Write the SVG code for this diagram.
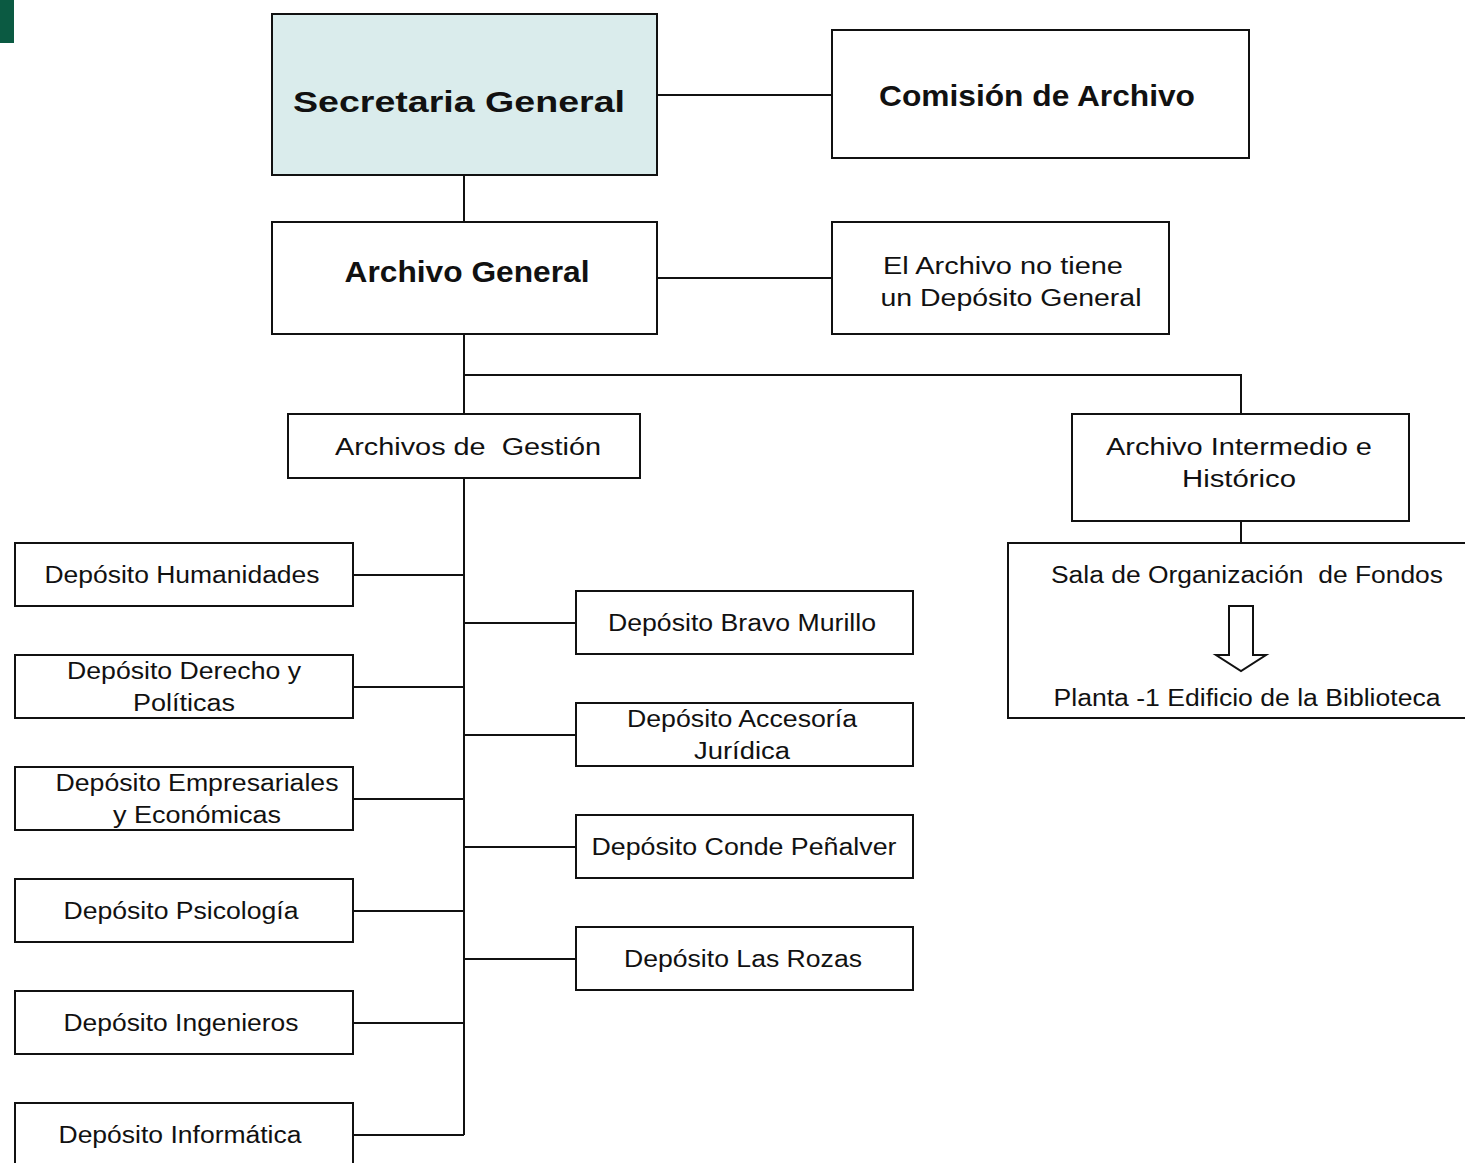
<svg xmlns="http://www.w3.org/2000/svg" width="1465" height="1163" viewBox="0 0 1465 1163">
<style>
.box{fill:#fff;stroke:#111;stroke-width:2}
.hl{fill:#daecec}
.t{font-family:"Liberation Sans",Arial,sans-serif;font-size:23px;fill:#111;text-anchor:middle}
.b{font-weight:bold;font-size:30px}
.p{white-space:pre}
.c{fill:none;stroke:#111;stroke-width:2}
</style>
<rect x="0" y="0" width="14" height="43" fill="#0b5a42"/>
<g id="connectors">
<path class="c" d="M657 95H832M464 175V222M657 278H832M464 334V414M464 375H1241V414M1241 521V543M464 478V1135"/>
<path class="c" d="M353 575H464M353 687H464M353 799H464M353 911H464M353 1023H464M353 1135H464"/>
<path class="c" d="M464 623H576M464 735H576M464 847H576M464 959H576"/>
</g>
<g id="secretaria"><rect class="box hl" x="272" y="14" width="385" height="161"/><text class="t b" x="459" y="112" textLength="332" lengthAdjust="spacingAndGlyphs">Secretaria General</text></g>
<g id="comision"><rect class="box" x="832" y="30" width="417" height="128"/><text class="t b" x="1037" y="106" textLength="316" lengthAdjust="spacingAndGlyphs">Comisión de Archivo</text></g>
<g id="archivo-general"><rect class="box" x="272" y="222" width="385" height="112"/><text class="t b" x="467" y="282" textLength="245" lengthAdjust="spacingAndGlyphs">Archivo General</text></g>
<g id="no-deposito"><rect class="box" x="832" y="222" width="337" height="112"/><text class="t" x="1003" y="274" textLength="240" lengthAdjust="spacingAndGlyphs">El Archivo no tiene</text><text class="t" x="1011" y="306" textLength="261" lengthAdjust="spacingAndGlyphs">un Depósito General</text></g>
<g id="gestion"><rect class="box" x="288" y="414" width="352" height="64"/><text class="t p" x="468" y="455" textLength="266" lengthAdjust="spacingAndGlyphs">Archivos de  Gestión</text></g>
<g id="intermedio"><rect class="box" x="1072" y="414" width="337" height="107"/><text class="t" x="1239" y="455" textLength="266" lengthAdjust="spacingAndGlyphs">Archivo Intermedio e</text><text class="t" x="1239" y="487" textLength="114" lengthAdjust="spacingAndGlyphs">Histórico</text></g>
<g id="sala"><rect class="box" x="1008" y="543" width="462" height="175"/><text class="t p" x="1247" y="583" textLength="392" lengthAdjust="spacingAndGlyphs">Sala de Organización  de Fondos</text><path d="M1229 606H1253V655H1266L1241 671L1216 655H1229Z" fill="#fff" stroke="#111" stroke-width="2"/><text class="t" x="1247" y="706" textLength="387" lengthAdjust="spacingAndGlyphs">Planta -1 Edificio de la Biblioteca</text></g>
<g id="humanidades"><rect class="box" x="15" y="543" width="338" height="63"/><text class="t" x="182" y="583" textLength="275" lengthAdjust="spacingAndGlyphs">Depósito Humanidades</text></g>
<g id="derecho"><rect class="box" x="15" y="655" width="338" height="63"/><text class="t" x="184" y="679" textLength="234" lengthAdjust="spacingAndGlyphs">Depósito Derecho y</text><text class="t" x="184" y="711" textLength="102" lengthAdjust="spacingAndGlyphs">Políticas</text></g>
<g id="empresariales"><rect class="box" x="15" y="767" width="338" height="63"/><text class="t" x="197" y="791" textLength="283" lengthAdjust="spacingAndGlyphs">Depósito Empresariales</text><text class="t" x="197" y="823" textLength="168" lengthAdjust="spacingAndGlyphs">y Económicas</text></g>
<g id="psicologia"><rect class="box" x="15" y="879" width="338" height="63"/><text class="t" x="181" y="919" textLength="235" lengthAdjust="spacingAndGlyphs">Depósito Psicología</text></g>
<g id="ingenieros"><rect class="box" x="15" y="991" width="338" height="63"/><text class="t" x="181" y="1031" textLength="235" lengthAdjust="spacingAndGlyphs">Depósito Ingenieros</text></g>
<g id="informatica"><rect class="box" x="15" y="1103" width="338" height="70"/><text class="t" x="180" y="1143" textLength="243" lengthAdjust="spacingAndGlyphs">Depósito Informática</text></g>
<g id="bravo-murillo"><rect class="box" x="576" y="591" width="337" height="63"/><text class="t" x="742" y="631" textLength="268" lengthAdjust="spacingAndGlyphs">Depósito Bravo Murillo</text></g>
<g id="accesoria"><rect class="box" x="576" y="703" width="337" height="63"/><text class="t" x="742" y="727" textLength="230" lengthAdjust="spacingAndGlyphs">Depósito Accesoría</text><text class="t" x="742" y="759" textLength="96" lengthAdjust="spacingAndGlyphs">Jurídica</text></g>
<g id="conde-penalver"><rect class="box" x="576" y="815" width="337" height="63"/><text class="t" x="744" y="855" textLength="305" lengthAdjust="spacingAndGlyphs">Depósito Conde Peñalver</text></g>
<g id="las-rozas"><rect class="box" x="576" y="927" width="337" height="63"/><text class="t" x="743" y="967" textLength="238" lengthAdjust="spacingAndGlyphs">Depósito Las Rozas</text></g>
</svg>
